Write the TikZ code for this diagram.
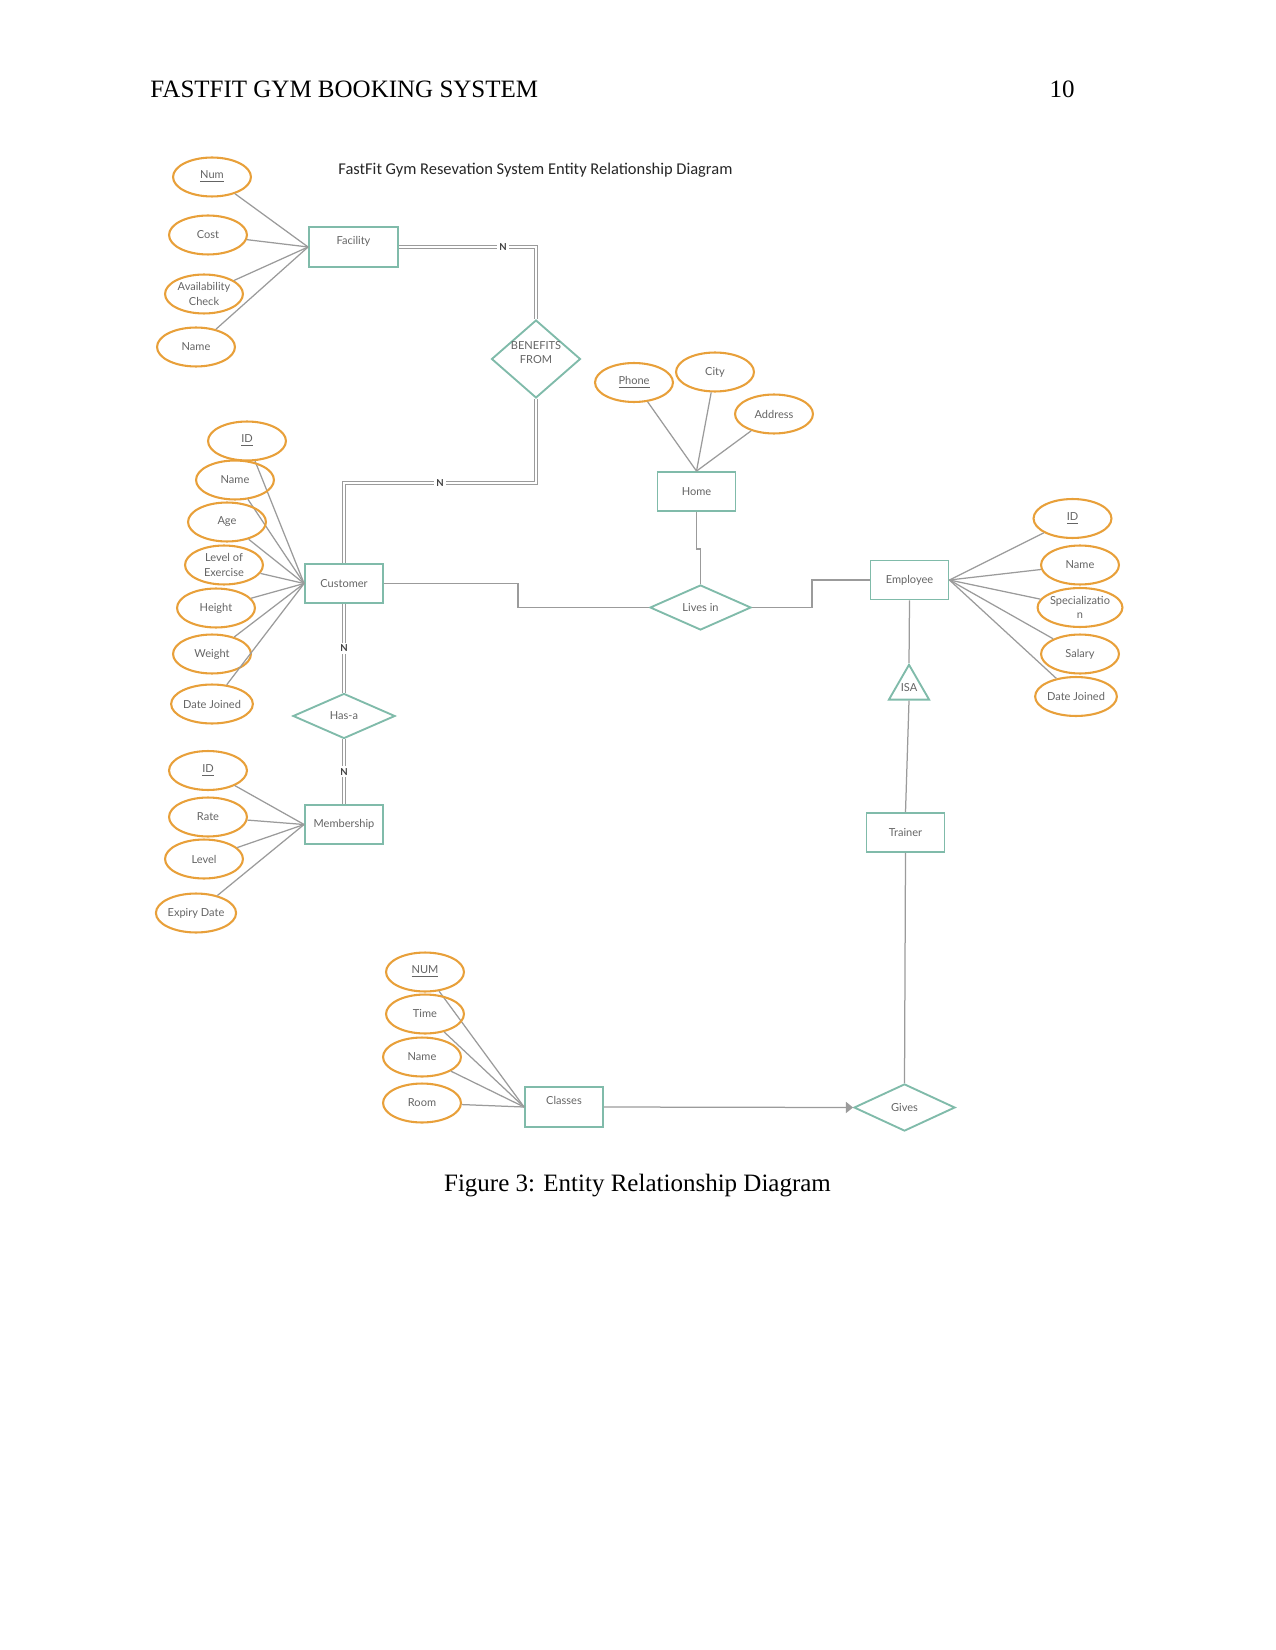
\documentclass[tikz,border=0pt]{standalone}
\usepackage{fontspec}
\setmainfont{Liberation Serif}
\newfontfamily\lato{Lato}
\newfontfamily\carlito{Carlito}
\usetikzlibrary{
  arrows.meta,
  positioning,
  shapes.geometric
}
\definecolor{attrline}{RGB}{232,160,58}
\definecolor{entline}{RGB}{128,187,170}
\definecolor{linkgray}{RGB}{155,155,155}
\definecolor{labeltext}{RGB}{100,100,100}

\begin{document}
\begin{tikzpicture}[
  x=0.48pt, y=-0.48pt,
  every node/.style={font=\lato\fontsize{5.3}{7}\selectfont, text=labeltext},
  attr/.style={ellipse, draw=attrline, line width=1pt, minimum width=37.4pt,
               minimum height=18.7pt, inner sep=0pt, align=center},
  entity/.style={rectangle, draw=entline, line width=0.9pt, minimum width=37.4pt,
                 minimum height=18.7pt, inner sep=0pt},
  entitytop/.style={entity, text depth=6.5pt},
  rel/.style={diamond, draw=entline, line width=0.9pt, inner sep=0pt,
              aspect=2, align=center},
  link/.style={draw=linkgray, line width=0.6pt},
  dbl/.style={draw=linkgray, line width=0.45pt, double=white, double distance=1.1pt},
  card/.style={fill=white, inner sep=1pt, text=black!75,
               font=\lato\bfseries\fontsize{4.6}{5}\selectfont}
]
\useasboundingbox (0,0) rectangle (1275,1650);

% Page header and caption
\node[font=\rmfamily\fontsize{12}{14}\selectfont, text=black, anchor=base west, inner sep=0pt]
  (header) at (150,98) {FASTFIT GYM BOOKING SYSTEM};
\node[font=\rmfamily\fontsize{12}{14}\selectfont, text=black, anchor=base east, inner sep=0pt]
  (pagenum) at (1075,98) {10};
\node[font=\rmfamily\fontsize{12}{14}\selectfont, text=black, anchor=base, inner sep=0pt]
  (caption) at (637.5,1191) {Figure 3: Entity Relationship Diagram};

\node[font=\carlito\fontsize{7.9}{9}\selectfont, text=black!85, anchor=base west, inner sep=0pt]
  (title) at (338,175) {FastFit Gym Resevation System Entity Relationship Diagram};

% Entities
\node[entitytop, minimum width=42.7pt, minimum height=19.2pt] (facility) at (353.5,247) {Facility};
\node[entity] (customer) at (344,583.5) {Customer};
\node[entity] (membership) at (344,824.5) {Membership};
\node[entity] (home) at (696.5,491.5) {Home};
\node[entity] (employee) at (909.5,580) {Employee};
\node[entity] (trainer) at (905.5,832.5) {Trainer};
\node[entitytop, minimum height=19.2pt] (classes) at (564,1107) {Classes};

% Relationships
\node[rel, minimum width=42.7pt, minimum height=37.4pt,
      label={[name=benefitstext, align=center, yshift=3pt]center:{BENEFITS\\FROM}}]
  (benefits) at (536,359) {};
\node[rel, minimum width=49pt, minimum height=21.6pt] (hasa) at (344,716) {Has-a};
\node[rel, minimum width=48.5pt, minimum height=21.6pt] (livesin) at (700.5,607.5) {Lives in};
\node[rel, minimum width=48.5pt, minimum height=22.6pt] (gives) at (904.5,1107.5) {Gives};
\node[regular polygon, regular polygon sides=3, draw=entline, line width=0.9pt,
      minimum size=21pt, inner sep=0pt] (isa) at (909,688) {ISA};

% Attributes
\foreach \i/\x/\y/\t in {1/212/177/\underline{Num}, 2/208/235/Cost,
                        3/204/294/{Availability\\Check}, 4/196/347/Name} {
  \node[attr] (fa\i) at (\x,\y) {\t};
  \draw[link] (fa\i) -- (facility.west);
}
\foreach \i/\x/\y/\t in {1/247/441/\underline{ID}, 2/235/480/Name, 3/227/522/Age,
                        4/224/565/{Level of\\Exercise}, 5/216/608/Height,
                        6/212/654/Weight, 7/212/704/Date Joined} {
  \node[attr] (cu\i) at (\x,\y) {\t};
  \draw[link] (cu\i) -- (customer.west);
}
\foreach \i/\x/\y/\t in {1/208/770.5/\underline{ID}, 2/208/817/Rate,
                        3/204/859/Level, 4/196/913/Expiry Date} {
  \node[attr] (me\i) at (\x,\y) {\t};
  \draw[link] (me\i) -- (membership.west);
}
\foreach \i/\x/\y/\t in {1/634/382.5/\underline{Phone}, 2/715/372/City, 3/774/414/Address} {
  \node[attr] (ho\i) at (\x,\y) {\t};
  \draw[link] (ho\i) -- (home.north);
}
\foreach \i/\x/\y/\t in {1/1072.5/518.5/\underline{ID}, 2/1080/565/Name,
                        3/1080/607.5/{Specializatio\\n}, 4/1080/654/Salary,
                        5/1076/696.5/Date Joined} {
  \node[attr] (em\i) at (\x,\y) {\t};
  \draw[link] (em\i) -- (employee.east);
}
\foreach \i/\x/\y/\t in {1/425/972/\underline{NUM}, 2/425/1014/Time,
                        3/422/1057/Name, 4/422/1103/Room} {
  \node[attr] (cl\i) at (\x,\y) {\t};
  \draw[link] (cl\i) -- (classes.west);
}

% Relationship connectors
\draw[dbl] (facility.east) -| node[card, pos=0.38] {N} (benefits.north);
\draw[dbl] (benefits.south) -- ++(0,84) -| node[card, pos=0.25] {N} (customer.north);
\draw[dbl] (customer.south) -- node[card] {N} (hasa.north);
\draw[dbl] (hasa.south) -- node[card] {N} (membership.north);

\draw[link] (customer.east) -- ++(134,0) |- (livesin.west);
\draw[link] (home.south) -- ++(0,37) -| (livesin.north);
\draw[link] (livesin.east) -- ++(60,0) |- (employee.west);

\draw[link] (employee.south) -- (isa.north);
\draw[link] (isa.south) -- (trainer.north);
\draw[link] (trainer.south) -- (gives.north);
\draw[link, -{Triangle[length=3.4pt, width=5.3pt]}] (classes.east) -- (gives.west);

\end{tikzpicture}
\end{document}
